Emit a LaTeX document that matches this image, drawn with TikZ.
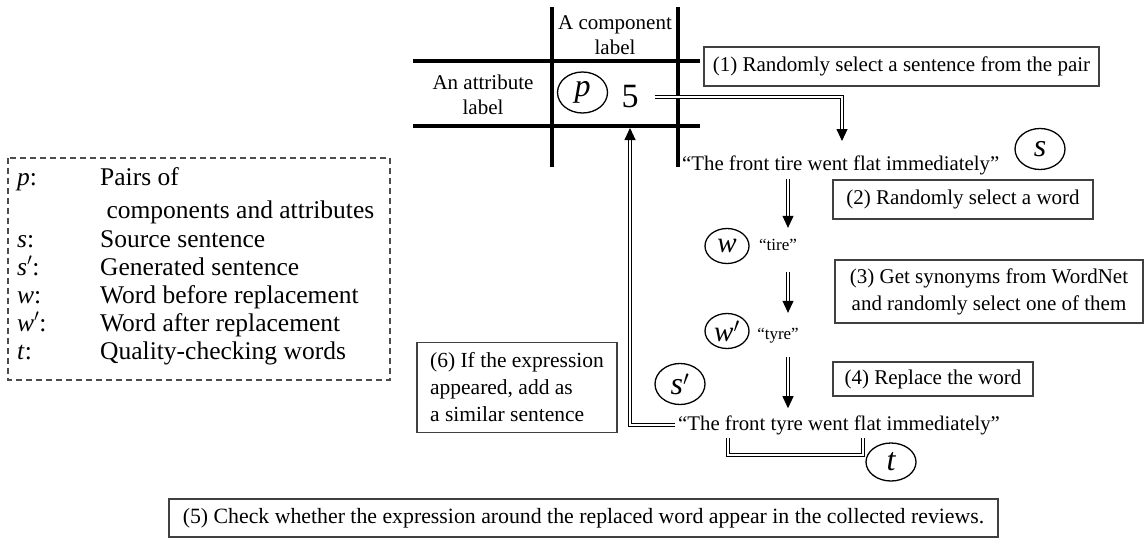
\documentclass[tikz,border=0pt]{standalone}
\usepackage{fontspec}
\setmainfont{Liberation Serif}
\usetikzlibrary{arrows.meta, shapes.geometric}

\begin{document}
\begin{tikzpicture}[x=1pt, y=-1pt, line join=miter,
		every node/.style={inner sep=0pt, font=\fontsize{21}{25}\selectfont},
		grid/.style={line width=4pt, black},
		stepbox/.style={draw=black!75, line width=1.2pt, align=center},
		sym/.style={ellipse, draw, line width=1.3pt, minimum width=50pt, minimum height=41pt, font=\fontsize{32}{36}\selectfont\itshape},
		symsmall/.style={sym, minimum width=44pt, minimum height=35pt, font=\fontsize{29}{32}\selectfont\itshape},
		sent/.style={font=\fontsize{20.8}{25}\selectfont},
		quot/.style={font=\fontsize{17}{19}\selectfont},
		link/.style={double, double distance=2pt, line width=0.9pt},
		flow/.style={link, -{Triangle[length=12pt, width=11pt]}},
		legend/.style={anchor=base west, font=\fontsize{25.5}{28}\selectfont}]
	\useasboundingbox (0,0) rectangle (1145,538);

	% 表格
	\draw[grid] (552,7) -- (552,167);
	\draw[grid] (678,7) -- (678,167);
	\draw[grid] (413,61) -- (700,61);
	\draw[grid] (413,126) -- (700,126);
	\node[align=center] (comp) at (615,35) {A component\\label};
	\node[align=center] (attr) at (483,95) {An attribute\\label};
	\node[sym] (p) at (582.5,92.5) {p};
	\node[font=\fontsize{34}{36}\selectfont] (five) at (630,97) {5};

	% 步骤框
	\node[stepbox, minimum width=395pt, minimum height=39pt] (sel) at (901.5,66.5) {(1) Randomly select a sentence from the pair};
	\node[stepbox, minimum width=260pt, minimum height=39pt] (pick) at (963,199.5) {(2) Randomly select a word};
	\node[stepbox, minimum width=308pt, minimum height=63pt, font=\fontsize{21}{27}\selectfont] (syn) at (989,291.5) {(3) Get synonyms from WordNet\\and randomly select one of them};
	\node[stepbox, minimum width=200pt, minimum height=34pt] (repl) at (933,379) {(4) Replace the word};
	\node[stepbox, minimum width=829pt, minimum height=38pt, font=\fontsize{21.8}{25}\selectfont] (check) at (583.5,518) {(5) Check whether the expression around the replaced word appear in the collected reviews.};
	\node[stepbox, align=left, minimum width=200pt, minimum height=90pt, font=\fontsize{21.5}{27}\selectfont] (add) at (517,387.5) {(6) If the expression\\appeared, add as\\a similar sentence};

	% 句子与单词
	\node[sent, anchor=west] (s1) at (682,165) {``The front tire went flat immediately''};
	\node[sym] (src) at (1040,149) {s};
	\node[symsmall] (wb) at (727,246) {w};
	\node[quot] (tire) at (778,245) {``tire''};
	\node[symsmall] (wa) at (727,331) {w$'$};
	\node[quot] (tyre) at (778,336) {``tyre''};
	\node[sym] (gen) at (680,384) {s$'$};
	\node[sent, anchor=west] (s2) at (678,425) {``The front tyre went flat immediately''};
	\node[sym, minimum height=38pt] (chk) at (891,462) {t};

	% 箭头
	\coordinate (mid) at (788,0);
	\coordinate (drop) at (842,141);
	\coordinate (back) at (630,128);
	\draw[flow] ([xshift=16pt]five.east) -| (drop);
	\draw[flow, shorten <=4pt] (s1.south -| mid) -- (wb.north -| mid);
	\draw[flow, shorten <=8pt] (wb.south -| mid) -- (wa.north -| mid);
	\draw[flow, shorten <=8pt, shorten >=7pt] (wa.south -| mid) -- (s2.north -| mid);
	\draw[flow] ([xshift=-3pt]s2.west) -| (back);

	% 检查词的括号
	\coordinate (tl) at (728,438);
	\coordinate (tr) at (863,438);
	\draw[link] (tl) -- ++(0,17) -| (tr);

	% 图例
	\draw[black!70, line width=1.2pt, dash pattern=on 6pt off 4pt] (8,158) rectangle (390,380);
	\foreach \n/\y/\k/\d in {1/185/{\textit{p}:}/{Pairs of},
			2/218/{}/{\ components and attributes},
			3/247/{\textit{s}:}/{Source sentence},
			4/275/{\textit{s}$'$:}/{Generated sentence},
			5/303/{\textit{w}:}/{Word before replacement},
			6/331/{\textit{w}$'$:}/{Word after replacement},
			7/359/{\textit{t}:}/{Quality-checking words}}{
		\node[legend] (key\n) at (17,\y) {\k};
		\node[legend] (txt\n) at (100,\y) {\d};
	}
\end{tikzpicture}
\end{document}
